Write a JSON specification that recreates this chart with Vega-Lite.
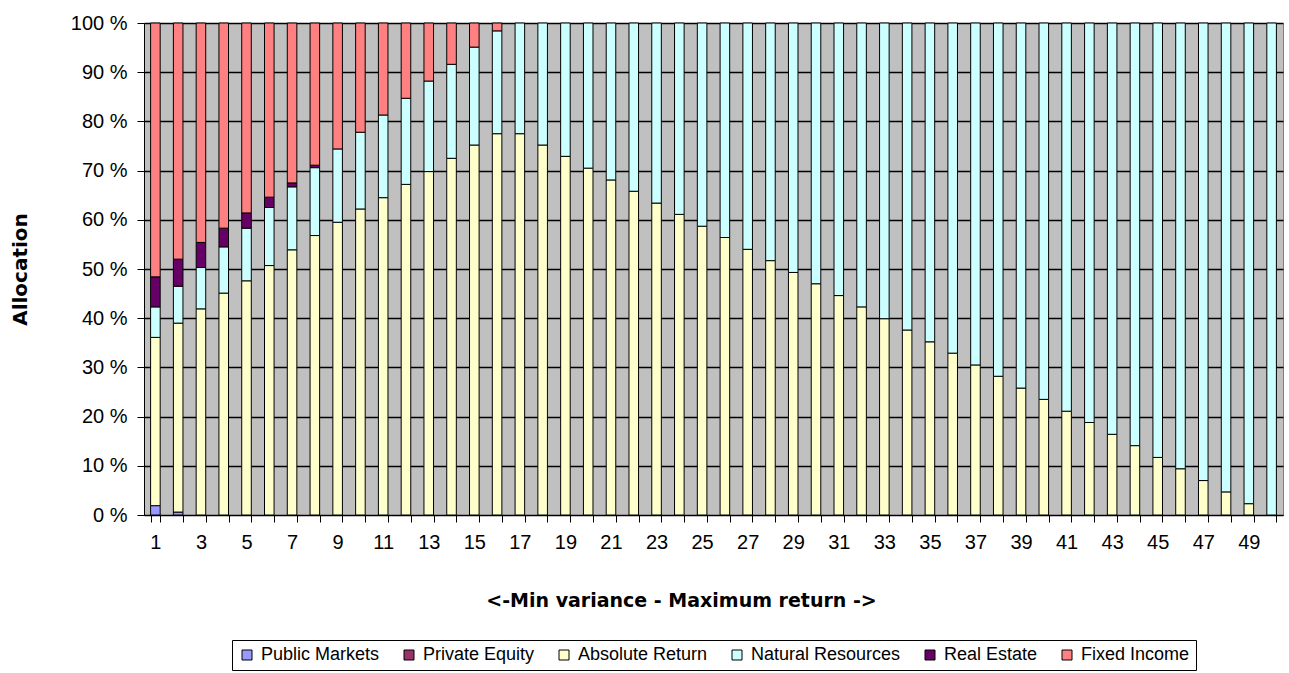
{
  "$schema": "https://vega.github.io/schema/vega-lite/v6.json",
  "width": 1139,
  "height": 492,
  "autosize": "none",
  "padding": {"left": 144, "top": 23, "right": 6, "bottom": 158},
  "background": "white",
  "config": {
    "font": "Liberation Sans",
    "view": {"fill": "#C0C0C0", "stroke": "#808080", "strokeWidth": 1}
  },
  "data": {
    "values": [
      {"x": 1, "asset": "Public Markets", "v": 1.9},
      {"x": 1, "asset": "Absolute Return", "v": 34.2},
      {"x": 1, "asset": "Natural Resources", "v": 6.2},
      {"x": 1, "asset": "Real Estate", "v": 6.1},
      {"x": 1, "asset": "Fixed Income", "v": 51.6},
      {"x": 2, "asset": "Public Markets", "v": 0.6},
      {"x": 2, "asset": "Absolute Return", "v": 38.4},
      {"x": 2, "asset": "Natural Resources", "v": 7.5},
      {"x": 2, "asset": "Real Estate", "v": 5.5},
      {"x": 2, "asset": "Fixed Income", "v": 48.0},
      {"x": 3, "asset": "Absolute Return", "v": 41.9},
      {"x": 3, "asset": "Natural Resources", "v": 8.4},
      {"x": 3, "asset": "Real Estate", "v": 5.1},
      {"x": 3, "asset": "Fixed Income", "v": 44.6},
      {"x": 4, "asset": "Absolute Return", "v": 45.1},
      {"x": 4, "asset": "Natural Resources", "v": 9.4},
      {"x": 4, "asset": "Real Estate", "v": 3.8},
      {"x": 4, "asset": "Fixed Income", "v": 41.7},
      {"x": 5, "asset": "Absolute Return", "v": 47.6},
      {"x": 5, "asset": "Natural Resources", "v": 10.7},
      {"x": 5, "asset": "Real Estate", "v": 3.1},
      {"x": 5, "asset": "Fixed Income", "v": 38.6},
      {"x": 6, "asset": "Absolute Return", "v": 50.7},
      {"x": 6, "asset": "Natural Resources", "v": 11.8},
      {"x": 6, "asset": "Real Estate", "v": 2.1},
      {"x": 6, "asset": "Fixed Income", "v": 35.4},
      {"x": 7, "asset": "Absolute Return", "v": 53.9},
      {"x": 7, "asset": "Natural Resources", "v": 12.8},
      {"x": 7, "asset": "Real Estate", "v": 0.8},
      {"x": 7, "asset": "Fixed Income", "v": 32.5},
      {"x": 8, "asset": "Absolute Return", "v": 56.8},
      {"x": 8, "asset": "Natural Resources", "v": 13.8},
      {"x": 8, "asset": "Real Estate", "v": 0.5},
      {"x": 8, "asset": "Fixed Income", "v": 28.9},
      {"x": 9, "asset": "Absolute Return", "v": 59.5},
      {"x": 9, "asset": "Natural Resources", "v": 14.9},
      {"x": 9, "asset": "Fixed Income", "v": 25.6},
      {"x": 10, "asset": "Absolute Return", "v": 62.2},
      {"x": 10, "asset": "Natural Resources", "v": 15.6},
      {"x": 10, "asset": "Fixed Income", "v": 22.2},
      {"x": 11, "asset": "Absolute Return", "v": 64.5},
      {"x": 11, "asset": "Natural Resources", "v": 16.8},
      {"x": 11, "asset": "Fixed Income", "v": 18.7},
      {"x": 12, "asset": "Absolute Return", "v": 67.2},
      {"x": 12, "asset": "Natural Resources", "v": 17.5},
      {"x": 12, "asset": "Fixed Income", "v": 15.3},
      {"x": 13, "asset": "Absolute Return", "v": 69.8},
      {"x": 13, "asset": "Natural Resources", "v": 18.4},
      {"x": 13, "asset": "Fixed Income", "v": 11.8},
      {"x": 14, "asset": "Absolute Return", "v": 72.5},
      {"x": 14, "asset": "Natural Resources", "v": 19.1},
      {"x": 14, "asset": "Fixed Income", "v": 8.4},
      {"x": 15, "asset": "Absolute Return", "v": 75.2},
      {"x": 15, "asset": "Natural Resources", "v": 19.9},
      {"x": 15, "asset": "Fixed Income", "v": 4.9},
      {"x": 16, "asset": "Absolute Return", "v": 77.5},
      {"x": 16, "asset": "Natural Resources", "v": 20.9},
      {"x": 16, "asset": "Fixed Income", "v": 1.6},
      {"x": 17, "asset": "Absolute Return", "v": 77.5},
      {"x": 17, "asset": "Natural Resources", "v": 22.5},
      {"x": 18, "asset": "Absolute Return", "v": 75.2},
      {"x": 18, "asset": "Natural Resources", "v": 24.8},
      {"x": 19, "asset": "Absolute Return", "v": 72.9},
      {"x": 19, "asset": "Natural Resources", "v": 27.1},
      {"x": 20, "asset": "Absolute Return", "v": 70.5},
      {"x": 20, "asset": "Natural Resources", "v": 29.5},
      {"x": 21, "asset": "Absolute Return", "v": 68.1},
      {"x": 21, "asset": "Natural Resources", "v": 31.9},
      {"x": 22, "asset": "Absolute Return", "v": 65.8},
      {"x": 22, "asset": "Natural Resources", "v": 34.2},
      {"x": 23, "asset": "Absolute Return", "v": 63.4},
      {"x": 23, "asset": "Natural Resources", "v": 36.6},
      {"x": 24, "asset": "Absolute Return", "v": 61.1},
      {"x": 24, "asset": "Natural Resources", "v": 38.9},
      {"x": 25, "asset": "Absolute Return", "v": 58.7},
      {"x": 25, "asset": "Natural Resources", "v": 41.3},
      {"x": 26, "asset": "Absolute Return", "v": 56.4},
      {"x": 26, "asset": "Natural Resources", "v": 43.6},
      {"x": 27, "asset": "Absolute Return", "v": 54.0},
      {"x": 27, "asset": "Natural Resources", "v": 46.0},
      {"x": 28, "asset": "Absolute Return", "v": 51.7},
      {"x": 28, "asset": "Natural Resources", "v": 48.3},
      {"x": 29, "asset": "Absolute Return", "v": 49.3},
      {"x": 29, "asset": "Natural Resources", "v": 50.7},
      {"x": 30, "asset": "Absolute Return", "v": 47.0},
      {"x": 30, "asset": "Natural Resources", "v": 53.0},
      {"x": 31, "asset": "Absolute Return", "v": 44.6},
      {"x": 31, "asset": "Natural Resources", "v": 55.4},
      {"x": 32, "asset": "Absolute Return", "v": 42.3},
      {"x": 32, "asset": "Natural Resources", "v": 57.7},
      {"x": 33, "asset": "Absolute Return", "v": 39.9},
      {"x": 33, "asset": "Natural Resources", "v": 60.1},
      {"x": 34, "asset": "Absolute Return", "v": 37.6},
      {"x": 34, "asset": "Natural Resources", "v": 62.4},
      {"x": 35, "asset": "Absolute Return", "v": 35.2},
      {"x": 35, "asset": "Natural Resources", "v": 64.8},
      {"x": 36, "asset": "Absolute Return", "v": 32.9},
      {"x": 36, "asset": "Natural Resources", "v": 67.1},
      {"x": 37, "asset": "Absolute Return", "v": 30.5},
      {"x": 37, "asset": "Natural Resources", "v": 69.5},
      {"x": 38, "asset": "Absolute Return", "v": 28.2},
      {"x": 38, "asset": "Natural Resources", "v": 71.8},
      {"x": 39, "asset": "Absolute Return", "v": 25.8},
      {"x": 39, "asset": "Natural Resources", "v": 74.2},
      {"x": 40, "asset": "Absolute Return", "v": 23.5},
      {"x": 40, "asset": "Natural Resources", "v": 76.5},
      {"x": 41, "asset": "Absolute Return", "v": 21.1},
      {"x": 41, "asset": "Natural Resources", "v": 78.9},
      {"x": 42, "asset": "Absolute Return", "v": 18.8},
      {"x": 42, "asset": "Natural Resources", "v": 81.2},
      {"x": 43, "asset": "Absolute Return", "v": 16.4},
      {"x": 43, "asset": "Natural Resources", "v": 83.6},
      {"x": 44, "asset": "Absolute Return", "v": 14.1},
      {"x": 44, "asset": "Natural Resources", "v": 85.9},
      {"x": 45, "asset": "Absolute Return", "v": 11.7},
      {"x": 45, "asset": "Natural Resources", "v": 88.3},
      {"x": 46, "asset": "Absolute Return", "v": 9.4},
      {"x": 46, "asset": "Natural Resources", "v": 90.6},
      {"x": 47, "asset": "Absolute Return", "v": 7.0},
      {"x": 47, "asset": "Natural Resources", "v": 93.0},
      {"x": 48, "asset": "Absolute Return", "v": 4.7},
      {"x": 48, "asset": "Natural Resources", "v": 95.3},
      {"x": 49, "asset": "Absolute Return", "v": 2.3},
      {"x": 49, "asset": "Natural Resources", "v": 97.7},
      {"x": 50, "asset": "Natural Resources", "v": 100.0}
    ]
  },
  "transform": [
    {"calculate": "indexof(['Public Markets', 'Private Equity', 'Absolute Return', 'Natural Resources', 'Real Estate', 'Fixed Income'], datum.asset)", "as": "stackRank"}
  ],
  "mark": {"type": "bar", "stroke": "black", "strokeWidth": 1},
  "encoding": {
    "x": {
      "field": "x",
      "type": "ordinal",
      "scale": {"paddingInner": 0.58, "paddingOuter": 0.29},
      "axis": {
        "title": "<-Min variance - Maximum return ->",
        "titleFont": "DejaVu Sans",
        "titleFontSize": 19,
        "titleFontWeight": "bold",
        "titleColor": "black",
        "titleX": 537,
        "titleY": 85,
        "titleAlign": "center",
        "titleBaseline": "middle",
        "labelAngle": 0,
        "labelFontSize": 20,
        "labelColor": "black",
        "labelPadding": 10,
        "labelExpr": "datum.value % 2 == 1 ? datum.label : ''",
        "tickBand": "extent",
        "tickColor": "black",
        "tickSize": 7,
        "domainColor": "black",
        "grid": false
      }
    },
    "y": {
      "field": "v",
      "type": "quantitative",
      "stack": "zero",
      "scale": {"domain": [0, 100], "nice": false},
      "axis": {
        "title": "Allocation",
        "titleFont": "DejaVu Sans",
        "titleFontSize": 20,
        "titleFontWeight": "bold",
        "titleColor": "black",
        "titleAngle": -90,
        "titleX": -124,
        "titleY": 246,
        "titleAlign": "center",
        "titleBaseline": "middle",
        "values": [0, 10, 20, 30, 40, 50, 60, 70, 80, 90, 100],
        "labelExpr": "datum.value + ' %'",
        "labelFontSize": 20,
        "labelColor": "black",
        "labelPadding": 10,
        "tickColor": "black",
        "tickSize": 7,
        "domainColor": "black",
        "grid": true,
        "gridColor": "black",
        "gridWidth": 1.5,
        "gridOpacity": 1
      }
    },
    "color": {
      "field": "asset",
      "type": "nominal",
      "scale": {
        "domain": ["Public Markets", "Private Equity", "Absolute Return", "Natural Resources", "Real Estate", "Fixed Income"],
        "range": ["#9999FF", "#993366", "#FFFFCC", "#CCFFFF", "#660066", "#FF8080"]
      },
      "legend": {
        "title": null,
        "orient": "none",
        "direction": "horizontal",
        "legendX": 88,
        "legendY": 617,
        "columns": 6,
        "columnPadding": 20,
        "labelFontSize": 18,
        "labelColor": "black",
        "labelOffset": 5,
        "symbolType": "square",
        "symbolSize": 100,
        "symbolStrokeColor": "black",
        "symbolStrokeWidth": 1,
        "strokeColor": "black",
        "padding": 6
      }
    },
    "order": {"field": "stackRank", "type": "quantitative", "sort": "ascending"}
  }
}
